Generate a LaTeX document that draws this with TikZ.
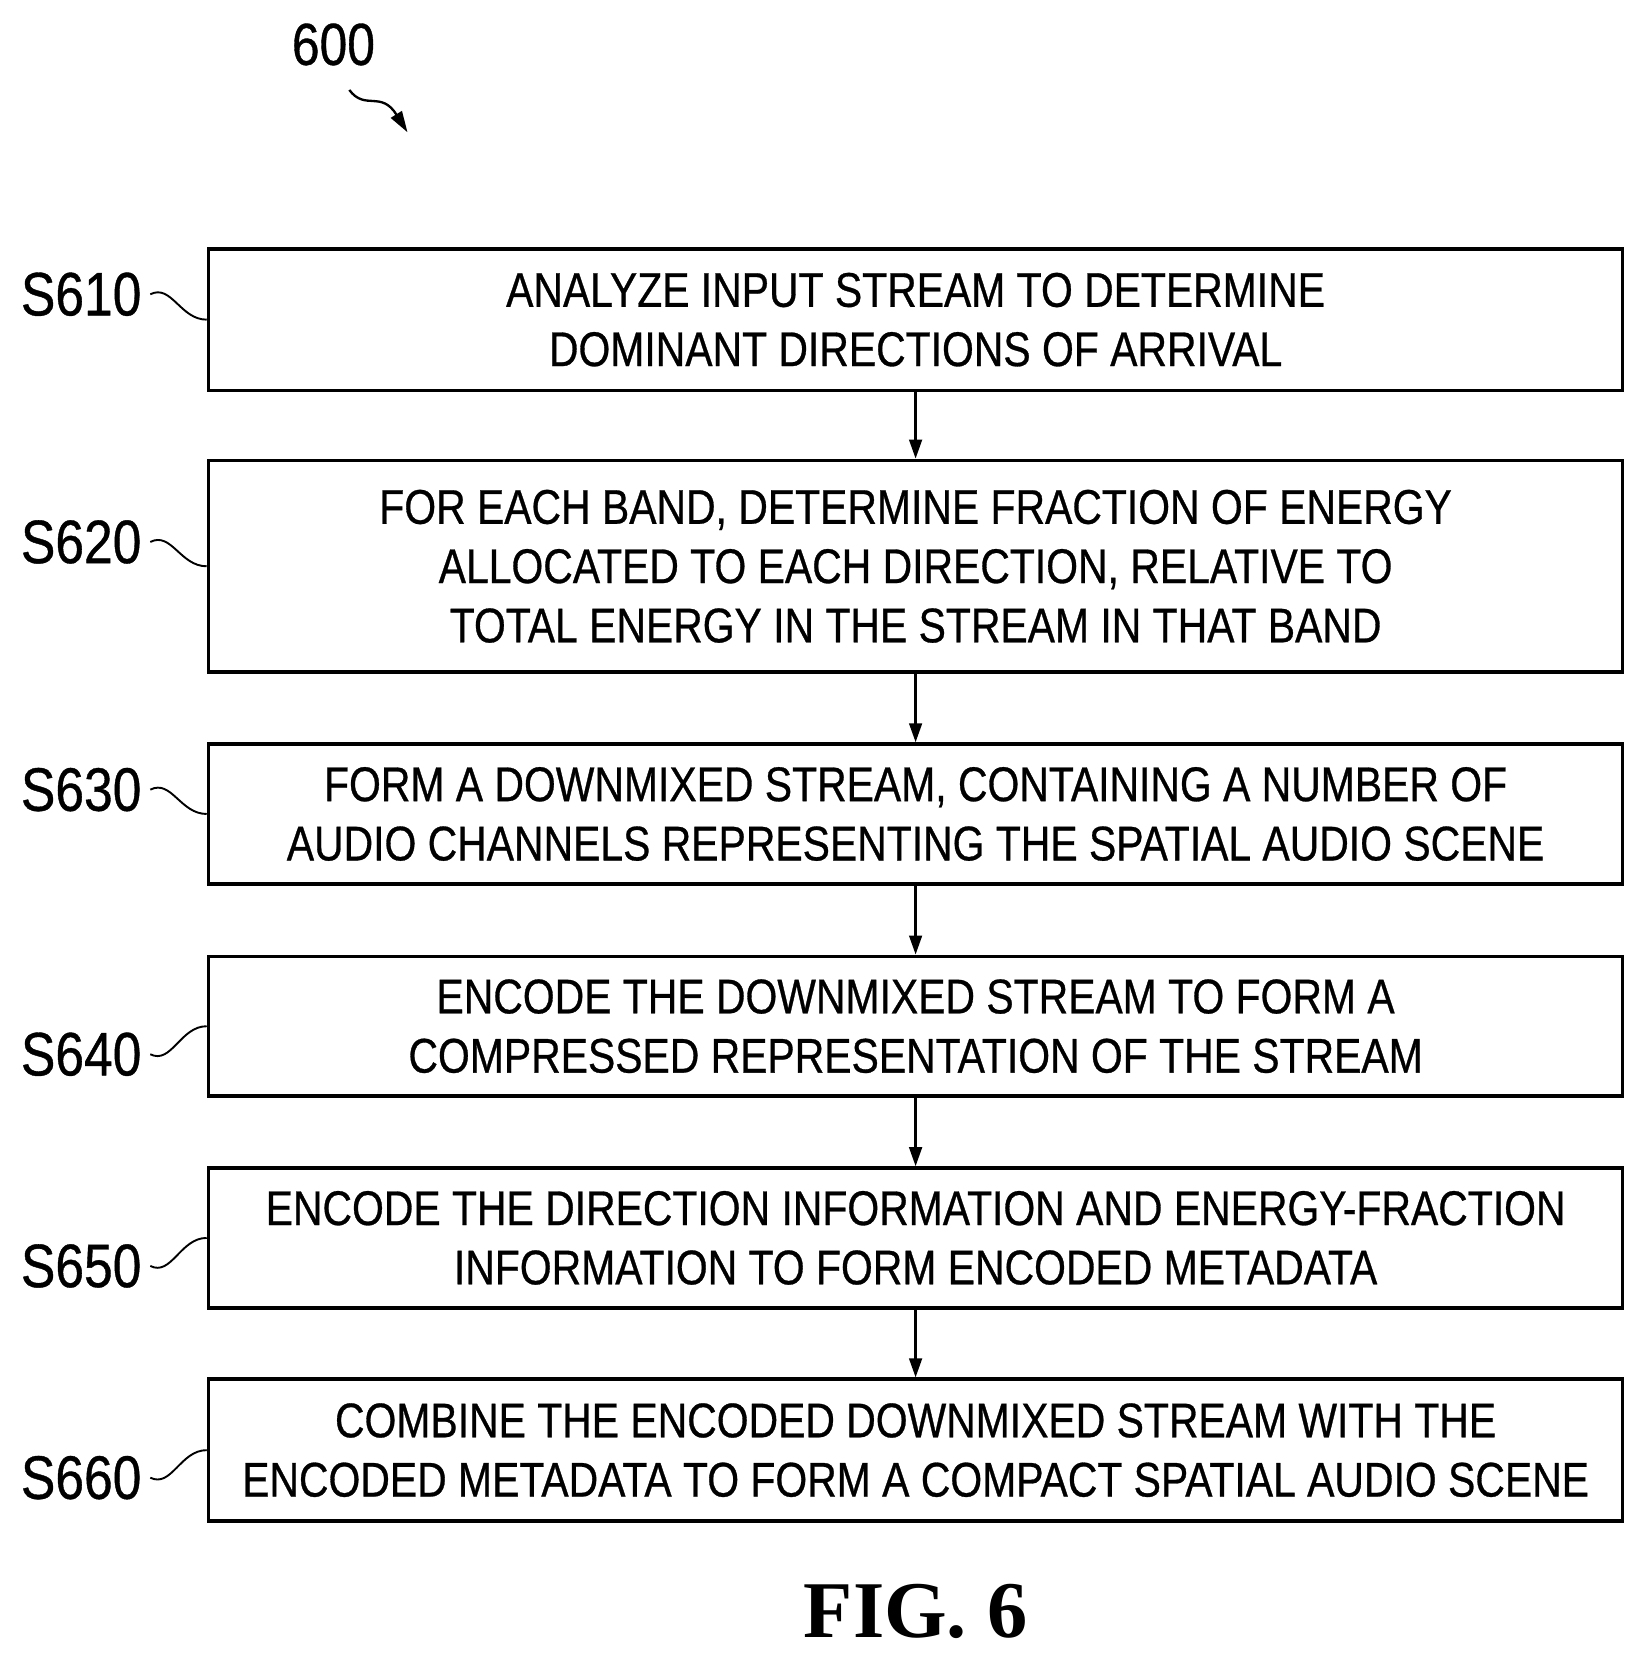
\documentclass[tikz,border=0pt]{standalone}
\usepackage{fontspec}
\setmainfont{Liberation Sans}[FakeStretch=0.84,FakeBold=0.6]
\newfontfamily\figfont{Liberation Serif}
\usetikzlibrary{arrows.meta}
\begin{document}
\begin{tikzpicture}[x=0.5pt,y=-0.5pt,
  box/.style={draw,line width=1.7pt,minimum width=668pt,inner sep=0pt,align=center,font=\fontsize{23}{28}\selectfont},
  lbl/.style={font=\fontsize{29}{30}\selectfont,anchor=east,inner sep=0pt},
  arr/.style={line width=1.2pt,-{Triangle[length=9pt,width=6pt]}}]
\useasboundingbox (0,0) rectangle (1560,1573);
\node[box,minimum height=67pt] (b1) at (865,302) {ANALYZE INPUT STREAM TO DETERMINE\\DOMINANT DIRECTIONS OF ARRIVAL};
\node[box,minimum height=100pt] (b2) at (865,535) {FOR EACH BAND, DETERMINE FRACTION OF ENERGY\\ALLOCATED TO EACH DIRECTION, RELATIVE TO\\TOTAL ENERGY IN THE STREAM IN THAT BAND};
\node[box,minimum height=66pt] (b3) at (865,769) {FORM A DOWNMIXED STREAM, CONTAINING A NUMBER OF\\AUDIO CHANNELS REPRESENTING THE SPATIAL AUDIO SCENE};
\node[box,minimum height=66pt] (b4) at (865,969.5) {ENCODE THE DOWNMIXED STREAM TO FORM A\\COMPRESSED REPRESENTATION OF THE STREAM};
\node[box,minimum height=66pt] (b5) at (865,1169.5) {ENCODE THE DIRECTION INFORMATION AND ENERGY-FRACTION\\INFORMATION TO FORM ENCODED METADATA};
\node[box,minimum height=67pt] (b6) at (865,1370) {COMBINE THE ENCODED DOWNMIXED STREAM WITH THE\\ENCODED METADATA TO FORM A COMPACT SPATIAL AUDIO SCENE};
\foreach \a/\b in {b1/b2,b2/b3,b3/b4,b4/b5,b5/b6} \draw[arr] (\a.south) -- (\b.north);
\node[lbl] (l1) at (134,278) {S610};
\node[lbl] (l2) at (134,512) {S620};
\node[lbl] (l3) at (134,746) {S630};
\node[lbl] (l4) at (134,996) {S640};
\node[lbl] (l5) at (134,1196) {S650};
\node[lbl] (l6) at (134,1396) {S660};
\foreach \l/\b in {l1/b1,l2/b2,l3/b3}
  \draw[line width=0.9pt] (\l.east)++(8,0) .. controls +(20,-10) and +(-25,0) .. (\b.west);
\foreach \l/\b in {l4/b4,l5/b5,l6/b6}
  \draw[line width=0.9pt] (\l.east)++(8,0) .. controls +(20,10) and +(-25,0) .. (\b.west);
\node[font=\fontsize{28}{30}\selectfont] (n600) at (315,42) {600};
\coordinate (c600) at (385,125);
\draw[line width=1.1pt,-{Triangle[length=10pt,width=6pt]}] (330,85) .. controls (345,105) and (360,85) .. (c600);
\node[font=\figfont\bfseries\fontsize{38}{40}\selectfont] (fig) at (865,1522) {FIG. 6};
\end{tikzpicture}
\end{document}
